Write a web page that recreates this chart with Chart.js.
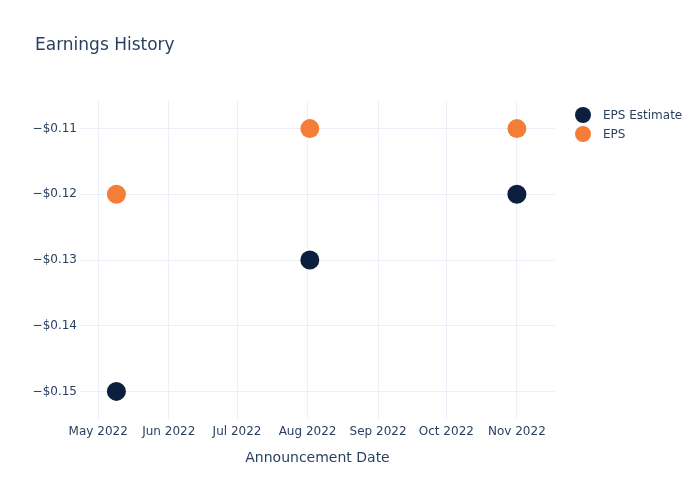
<!DOCTYPE html>
<html lang="en">
<head>
    <meta charset="UTF-8">
    <title>Earnings History</title>
    <script src="https://cdn.jsdelivr.net/npm/chart.js@4/dist/chart.umd.min.js"></script>
    <style>
        body { margin: 0; background: #fff; }
        #wrap { width: 700px; height: 500px; }
    </style>
</head>
<body>
    <div id="wrap"><canvas id="earningsChart"></canvas></div>
    <script>
        // Data
        const announceDates = ['2022-05-09', '2022-08-02', '2022-11-01'];
        const epsEstimate = [-0.15, -0.13, -0.12];
        const epsActual = [-0.12, -0.11, -0.11];
        const monthTicks = ['2022-05-01', '2022-06-01', '2022-07-01', '2022-08-01', '2022-09-01', '2022-10-01', '2022-11-01'];
        const yTicks = [-0.15, -0.14, -0.13, -0.12, -0.11];

        const toMs = s => Date.parse(s + 'T00:00:00Z');
        const monthNames = ['Jan', 'Feb', 'Mar', 'Apr', 'May', 'Jun', 'Jul', 'Aug', 'Sep', 'Oct', 'Nov', 'Dec'];
        const textColor = '#2a3f5f';
        const gridColor = '#ebf0f8';
        const fontFamily = '"DejaVu Sans", Verdana, sans-serif';

        const colors = { estimate: '#0d1f3f', eps: '#f47e38' };

        // title + plotly-like legend
        const decorations = {
            id: 'decorations',
            afterDraw(chart) {
                const c = chart.ctx;
                c.save();
                c.fillStyle = textColor;
                c.font = '17px ' + fontFamily;
                c.textBaseline = 'middle';
                c.textAlign = 'left';
                c.fillText('Earnings History', 35, 46);

                c.font = '12px ' + fontFamily;
                chart.data.datasets.forEach((ds, i) => {
                    const y = 115 + i * 19;
                    c.beginPath();
                    c.arc(583, y, 8, 0, Math.PI * 2);
                    c.fillStyle = ds.backgroundColor;
                    c.fill();
                    c.fillStyle = textColor;
                    c.fillText(ds.label, 603, y + 1);
                });
                c.restore();
            }
        };

        const ctx = document.getElementById('earningsChart').getContext('2d');
        new Chart(ctx, {
            type: 'scatter',
            data: {
                datasets: [
                    {
                        label: 'EPS Estimate',
                        data: announceDates.map((d, i) => ({ x: toMs(d), y: epsEstimate[i] })),
                        backgroundColor: colors.estimate,
                        borderWidth: 0,
                        pointRadius: 9.5,
                        pointHoverRadius: 9.5
                    },
                    {
                        label: 'EPS',
                        data: announceDates.map((d, i) => ({ x: toMs(d), y: epsActual[i] })),
                        backgroundColor: colors.eps,
                        borderWidth: 0,
                        pointRadius: 9.5,
                        pointHoverRadius: 9.5
                    }
                ]
            },
            options: {
                responsive: true,
                maintainAspectRatio: false,
                animation: false,
                layout: { padding: { top: 101, right: 145, bottom: 29, left: 0 } },
                plugins: {
                    legend: { display: false },
                    tooltip: { enabled: false }
                },
                scales: {
                    x: {
                        type: 'linear',
                        min: Date.UTC(2022, 3, 23),
                        max: Date.UTC(2022, 10, 17, 18),
                        border: { display: false },
                        grid: { color: gridColor, drawTicks: false },
                        afterBuildTicks: axis => { axis.ticks = monthTicks.map(m => ({ value: toMs(m) })); },
                        afterFit: axis => { axis.height = 52; },
                        ticks: {
                            color: textColor,
                            font: { family: fontFamily, size: 12 },
                            padding: 6,
                            maxRotation: 0,
                            autoSkip: false,
                            callback: v => {
                                const d = new Date(v);
                                return monthNames[d.getUTCMonth()] + ' ' + d.getUTCFullYear();
                            }
                        },
                        title: {
                            display: true,
                            text: 'Announcement Date',
                            color: textColor,
                            font: { family: fontFamily, size: 14 },
                            padding: { top: 0, bottom: 4 }
                        }
                    },
                    y: {
                        min: -0.1542,
                        max: -0.1058,
                        border: { display: false },
                        grid: { color: gridColor, drawTicks: false },
                        afterBuildTicks: axis => { axis.ticks = yTicks.map(v => ({ value: v })); },
                        afterFit: axis => { axis.width = 80; },
                        ticks: {
                            color: textColor,
                            font: { family: fontFamily, size: 12 },
                            padding: 3,
                            callback: v => '\u2212$' + Math.abs(v).toFixed(2)
                        }
                    }
                }
            },
            plugins: [decorations]
        });
    </script>
</body>
</html>
